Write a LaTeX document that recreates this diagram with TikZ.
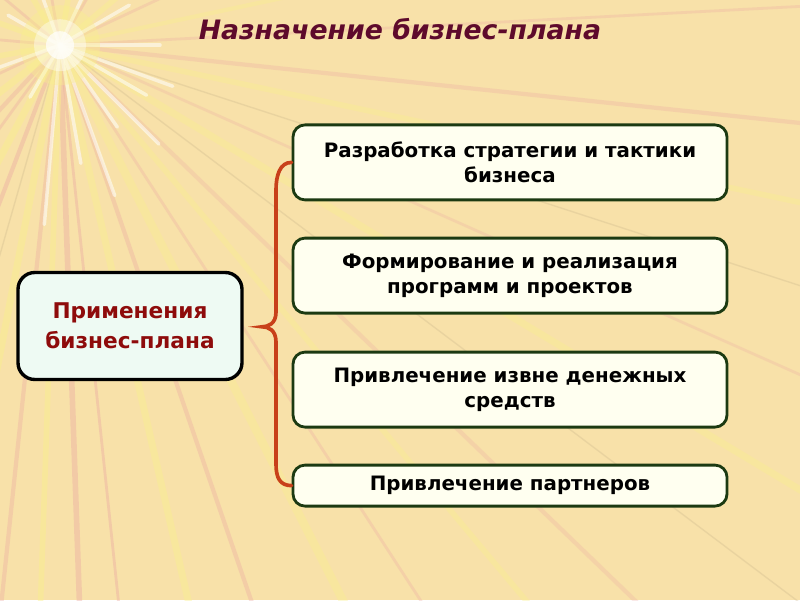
\documentclass[tikz,border=0pt]{standalone}
\usepackage{fontspec}
\setmainfont{DejaVu Sans}
\usetikzlibrary{positioning}

\definecolor{bgtan}{HTML}{F8E1A9}
\definecolor{raypink}{HTML}{EBA9A3}
\definecolor{rayyel}{HTML}{FAF08C}
\definecolor{raygrey}{HTML}{C9B48A}
\definecolor{titlered}{HTML}{5E0A2C}
\definecolor{leftred}{HTML}{8E0B0B}
\definecolor{boxgreen}{HTML}{1C3A12}
\definecolor{boxfill}{HTML}{FFFFF0}
\definecolor{leftfill}{HTML}{EEFAF3}
\definecolor{bracered}{HTML}{C8401A}

\tikzset{
  mainbox/.style={draw=black, line width=2.4pt, fill=leftfill, rounded corners=0.42cm,
    minimum width=5.6cm, minimum height=2.675cm, inner sep=0pt, align=center,
    text=leftred, font=\fontsize{15.4}{21}\selectfont\bfseries},
  usebox/.style={draw=boxgreen, line width=2pt, fill=boxfill, rounded corners=0.3cm,
    minimum width=10.85cm, minimum height=1.875cm, inner sep=0pt, align=center,
    font=\fontsize{14.1}{17.7}\selectfont\bfseries},
  brace/.style={draw=bracered, line width=2.6pt, line cap=round},
}

\begin{document}
\begin{tikzpicture}
	\useasboundingbox (0,0) rectangle (20,15);
	\clip (0,0) rectangle (20,15);
	\fill[bgtan] (0,0) rectangle (20,15);

	% light rays
	\coordinate (glow) at (1.5,13.87);
	\foreach \a/\c/\w/\o in {-6/raypink/3/0.3, -12/rayyel/4/0.35, -18/raygrey/1/0.3,
			-24/raypink/2/0.25, -31/rayyel/5/0.35, -37/raygrey/1/0.3, -44/raypink/3/0.25,
			-50/rayyel/4/0.35, -57/raypink/2/0.3, -63/rayyel/6/0.35, -71/raypink/3/0.35,
			-77/rayyel/5/0.4, -84/raypink/2/0.4, -88/raypink/4/0.4, -92/rayyel/4/0.45,
			-96/raypink/3/0.35, -101/rayyel/5/0.45, -106/raygrey/1/0.3, -111/raypink/3/0.4,
			-118/rayyel/5/0.45, -126/raypink/2/0.35, -133/raypink/3/0.35, -142/rayyel/5/0.45,
			-155/raypink/2/0.35, -170/rayyel/4/0.45, 175/raypink/2/0.35, 160/rayyel/4/0.45,
			140/raypink/2/0.35, 120/rayyel/4/0.45, 100/raypink/2/0.35, 80/rayyel/4/0.45,
			60/raypink/2/0.35, 40/rayyel/4/0.4, 25/raypink/2/0.3, 12/rayyel/3/0.35, 3/raypink/2/0.3}
		\draw[\c, line width=\w pt, opacity=\o] (glow) -- ++(\a:30);
	\foreach \a/\l in {-95/4.5,-80/3,-70/4,-55/2.5,-45/3.5,-30/2.5,-20/3,0/2.5,30/2,65/2,110/2,150/1.5,200/2,240/1.5}
		\draw[white, line width=2.5pt, opacity=0.55, line cap=round] (glow) -- ++(\a:\l);
	\fill[rayyel, opacity=0.35] (glow) circle (1.0);
	\fill[white, opacity=0.4] (glow) circle (0.65);
	\fill[white, opacity=0.7] (glow) circle (0.35);

	\node[anchor=base, text=titlered, font=\fontsize{19}{22}\selectfont\bfseries\itshape]
		(title) at (10,14.02) {Назначение бизнес-плана};

	\node[mainbox] (use) at (3.25,6.85) {Применения\\бизнес-плана};

	\node[usebox] (b1) at (12.75,10.94) {Разработка стратегии и тактики\\бизнеса};
	\node[usebox] (b2) at (12.75,8.11) {Формирование и реализация\\программ и проектов};
	\node[usebox] (b3) at (12.75,5.26) {Привлечение извне денежных\\средств};
	\node[usebox, minimum height=1.025cm] (b4) at (12.75,2.86) {Привлечение партнеров};

	\coordinate (tip) at (6.55,6.83);
	\draw[brace] (b1.west) .. controls +(-0.3,0) and (6.9,10.6) .. (6.9,10.25)
		-- (6.9,7.2) .. controls (6.9,6.9) and (6.7,6.83) .. (tip)
		.. controls (6.7,6.83) and (6.9,6.76) .. (6.9,6.45)
		-- (6.9,3.4) .. controls (6.9,3.05) and (7.0,2.86) .. (b4.west);
\end{tikzpicture}
\end{document}
